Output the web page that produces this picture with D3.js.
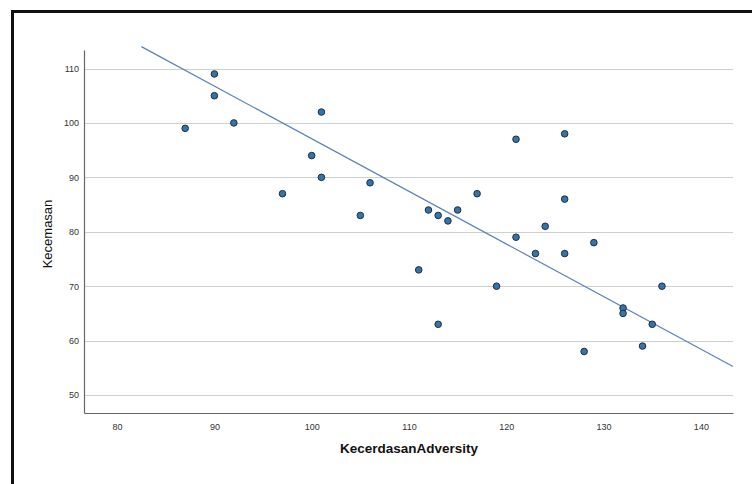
<!DOCTYPE html>
<html>
<head>
<meta charset="utf-8">
<script src="https://cdn.jsdelivr.net/npm/d3@7"></script>
<style>
  body { margin: 0; background: #fff; }
  svg { display: block; font-family: Arial, 'Liberation Sans', sans-serif; }
</style>
</head>
<body>
<div id="chart"></div>
<script>
// KecerdasanAdversity (x) vs Kecemasan (y)
const adversity = [90, 90, 87, 92, 101, 100, 101, 106, 97, 117, 121, 126, 105, 112, 113, 114,
  115, 111, 119, 113, 126, 124, 121, 123, 126, 129, 136, 132, 132, 135, 134, 128];
const kecemasan = [109, 105, 99, 100, 102, 94, 90, 89, 87, 87, 97, 98, 83, 84, 83, 82,
  84, 73, 70, 63, 86, 81, 79, 76, 76, 78, 70, 66, 65, 63, 59, 58];
const xTicks = [80, 90, 100, 110, 120, 130, 140];
const yTicks = [50, 60, 70, 80, 90, 100, 110];
// fit line: y = intercept + slope * x, drawn over fitRange
const fitIntercept = 193.8;
const fitSlope = -0.967;
const fitRange = [82.5, 143.3];

const width = 752;
const height = 484;
const plot = { left: 84, right: 733, top: 50, bottom: 413 };

const svg = d3.select('#chart')
  .append('svg')
  .attr('width', width)
  .attr('height', height);

// outer frame (cropped on the right and bottom)
svg.append('path')
  .attr('d', `M 12.5 ${height + 5} L 12.5 11.5 L ${width + 5} 11.5`)
  .attr('fill', 'none')
  .attr('stroke', '#111')
  .attr('stroke-width', 3);

const x = d3.scaleLinear().domain([76.6, 143.3]).range([plot.left, plot.right]);
const y = d3.scaleLinear().domain([46.7, 113.4]).range([plot.bottom, plot.top]);

// gridlines
svg.append('g')
  .selectAll('line')
  .data(yTicks)
  .join('line')
  .attr('x1', plot.left)
  .attr('x2', plot.right)
  .attr('y1', (d) => Math.round(y(d)) + 0.5)
  .attr('y2', (d) => Math.round(y(d)) + 0.5)
  .attr('stroke', '#cfcfcf')
  .attr('stroke-width', 1);

// axes
const xAxis = svg.append('g')
  .attr('transform', `translate(0,${plot.bottom})`)
  .call(d3.axisBottom(x).tickValues(xTicks).tickSize(0).tickPadding(11));
const yAxis = svg.append('g')
  .attr('transform', `translate(${plot.left},0)`)
  .call(d3.axisLeft(y).tickValues(yTicks).tickSize(0).tickPadding(5));

[xAxis, yAxis].forEach((g) => {
  g.select('.domain').attr('stroke', '#666').attr('stroke-width', 1.2);
  g.selectAll('text')
    .attr('fill', '#333')
    .style('font-size', '9px');
});

// fit line
svg.append('line')
  .attr('x1', x(fitRange[0]))
  .attr('y1', y(fitIntercept + fitSlope * fitRange[0]))
  .attr('x2', x(fitRange[1]))
  .attr('y2', y(fitIntercept + fitSlope * fitRange[1]))
  .attr('stroke', '#5b83b8')
  .attr('stroke-width', 1.2);

// points
svg.append('g')
  .selectAll('circle')
  .data(adversity.map((v, i) => [v, kecemasan[i]]))
  .join('circle')
  .attr('cx', (d) => x(d[0]))
  .attr('cy', (d) => y(d[1]))
  .attr('r', 3.3)
  .attr('fill', '#3474ad')
  .attr('stroke', '#1d2f44')
  .attr('stroke-width', 1);

// axis titles
svg.append('text')
  .attr('x', 409)
  .attr('y', 453)
  .attr('text-anchor', 'middle')
  .style('font-size', '13.5px')
  .style('font-weight', 'bold')
  .attr('fill', '#111')
  .text('KecerdasanAdversity');

svg.append('text')
  .attr('transform', 'translate(52,234) rotate(-90)')
  .attr('text-anchor', 'middle')
  .style('font-size', '13px')
  .attr('fill', '#111')
  .text('Kecemasan');
</script>
</body>
</html>
